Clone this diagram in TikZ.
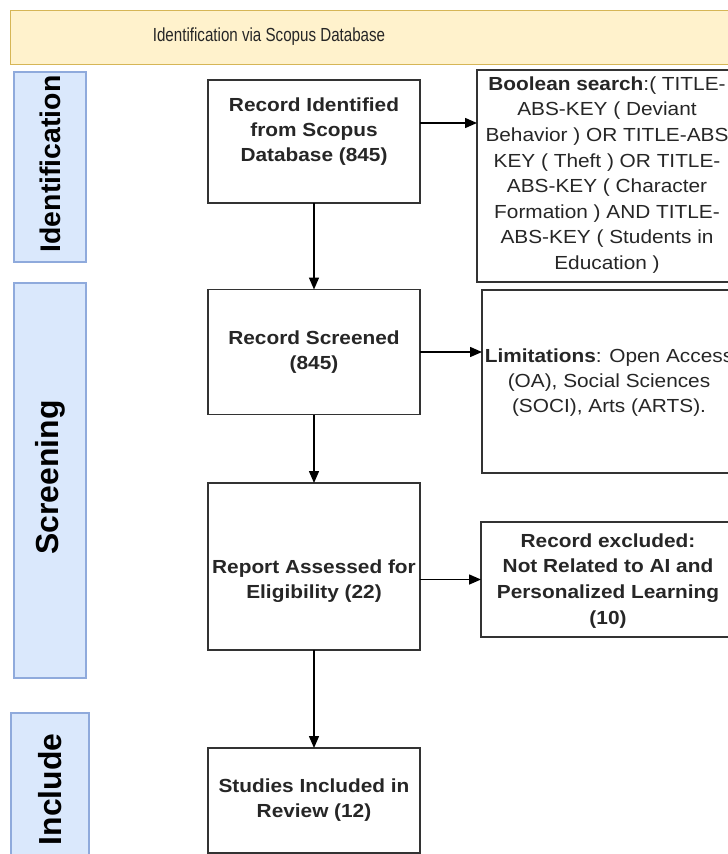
\documentclass[tikz,border=0pt]{standalone}
\usepackage{fontspec}
\setmainfont{Liberation Sans}[FakeStretch=1.1]
\newfontfamily\bannerfont{Liberation Sans}[FakeStretch=0.8]
\newfontfamily\sidefont{Liberation Sans}
\usetikzlibrary{arrows.meta}
\definecolor{bannerfill}{HTML}{FFF2CC}
\definecolor{bannerline}{HTML}{D6B656}
\definecolor{sidefill}{HTML}{DAE8FC}
\definecolor{sideline}{HTML}{8FAADC}
\definecolor{boxline}{HTML}{333333}
\begin{document}
\begin{tikzpicture}[x=1bp,y=-1bp,
  mainbox/.style={draw=boxline,line width=1.8bp,minimum width=212bp,inner sep=0pt,outer sep=0pt,fill=white},
  sidebox/.style={draw=sideline,line width=1.2bp,fill=sidefill,inner sep=0pt,outer sep=0pt},
  sidelabel/.style={rotate=90,font=\sidefont\bfseries,inner sep=0pt},
  boxtext/.style={align=center,inner sep=0pt,text=black!85,font=\fontsize{19}{25}\selectfont},
  arr/.style={line width=1.5bp,draw=black,-{Triangle[length=12bp,width=10bp]}}]
\useasboundingbox (0,0) rectangle (728,854);
\clip (0,0) rectangle (728,854);
\fill[white] (0,0) rectangle (728,854);
% banner
\node[draw=bannerline,fill=bannerfill,line width=1.2bp,minimum width=740bp,minimum height=54bp,inner sep=0pt,anchor=north west] (ban) at (10,10) {};
\node[inner sep=0pt,text=black!85,font=\bannerfont\fontsize{19}{22}\selectfont] (bant) at (269,37) {Identification via Scopus Database};
% side boxes
\node[sidebox,minimum width=72bp,minimum height=190bp] (sid) at (50,167) {};
\node[sidelabel,font=\sidefont\bfseries\fontsize{28.5}{30}\selectfont] (sidt) at (50,164) {Identification};
\node[sidebox,minimum width=72bp,minimum height=395bp] (ssc) at (50,480.5) {};
\node[sidelabel,font=\sidefont\bfseries\fontsize{32}{34}\selectfont] (ssct) at (50,477.5) {Screening};
\node[sidebox,minimum width=78bp,minimum height=153bp] (sin) at (50,789.5) {};
\node[sidelabel,font=\sidefont\bfseries\fontsize{32}{34}\selectfont] (sint) at (50,789.5) {Include};
% main boxes
\node[mainbox,minimum height=123bp] (rid) at (314,141.5) {};
\node[boxtext,font=\bfseries\fontsize{19}{25}\selectfont] (ridt) at (314,132) {Record Identified\\from Scopus\\Database (845)};
\node[mainbox,minimum height=125bp] (rs) at (314,352) {};
\node[boxtext,font=\bfseries\fontsize{19}{25}\selectfont] (rst) at (314,352.5) {Record Screened\\(845)};
\node[mainbox,minimum height=167bp] (ra) at (314,566.5) {};
\node[boxtext,font=\bfseries\fontsize{19}{25}\selectfont] (rat) at (314,581) {Report Assessed for\\Eligibility (22)};
\node[mainbox,minimum height=105bp] (si) at (314,800.5) {};
\node[boxtext,font=\bfseries\fontsize{19}{25}\selectfont] (sit) at (314,800.5) {Studies Included in\\Review (12)};
% right boxes
\node[mainbox,minimum width=260bp,minimum height=212bp] (bs) at (607,176) {};
\node[boxtext,font=\fontsize{19}{25.7}\selectfont] (bst) at (607,175) {\textbf{Boolean search}:( TITLE-\\ABS-KEY ( Deviant\\Behavior ) OR TITLE-ABS\\KEY ( Theft ) OR TITLE-\\ABS-KEY ( Character\\Formation ) AND TITLE-\\ABS-KEY ( Students in\\Education )};
\node[mainbox,minimum width=254bp,minimum height=183bp] (lim) at (609,381.5) {};
\node[boxtext] (limt) at (609,383) {\textbf{Limitations}: Open Access\\(OA), Social Sciences\\(SOCI), Arts (ARTS).};
\node[mainbox,minimum width=254bp,minimum height=115bp] (rex) at (608,579.5) {};
\node[boxtext,font=\bfseries\fontsize{19}{26}\selectfont] (rext) at (608,581) {Record excluded:\\Not Related to AI and\\Personalized Learning\\(10)};
% connectors
\draw[arr] (rid.south) -- (rs.north);
\draw[arr] (rs.south) -- (ra.north);
\draw[arr] (ra.south) -- (si.north);
\draw[arr] ([yshift=18.5bp]rid.east) -- ([yshift=18.5bp]rid.east -| bs.west);
\draw[arr] (rs.east) -- (rs.east -| lim.west);
\draw[arr] (ra.east |- rex.west) -- (rex.west);
\end{tikzpicture}
\end{document}
